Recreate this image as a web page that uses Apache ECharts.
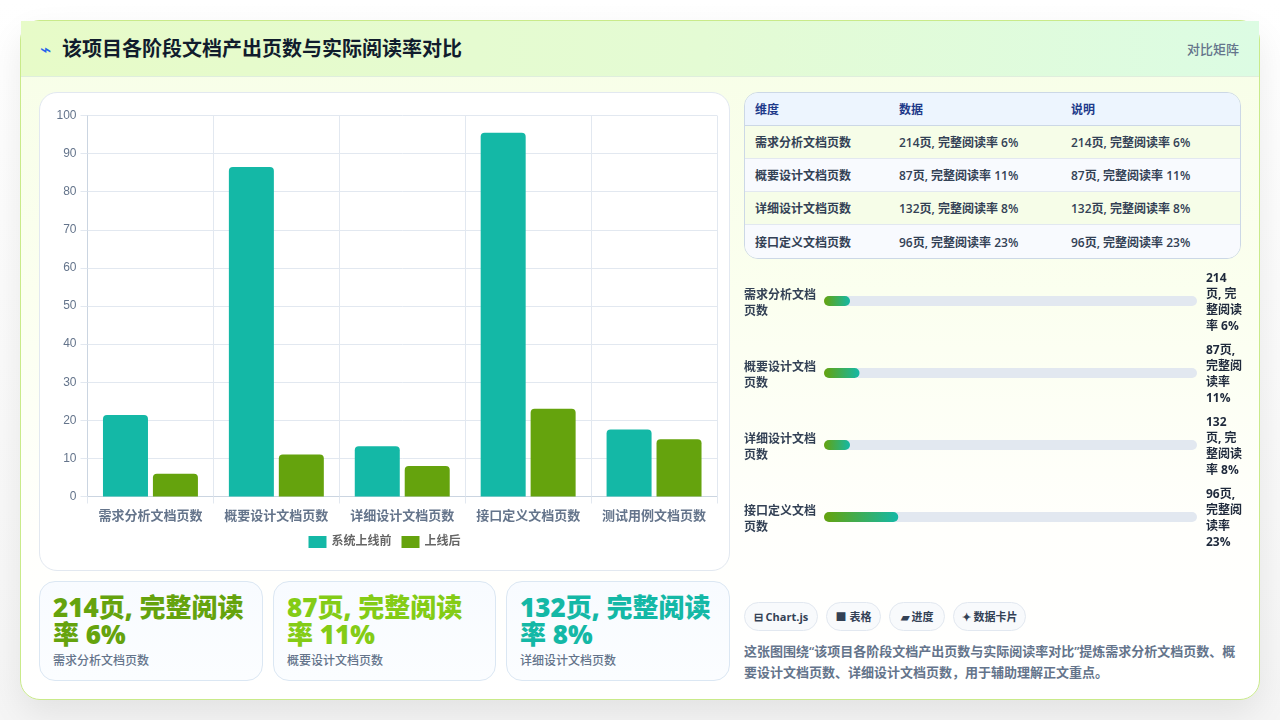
<!DOCTYPE html>
<html lang="zh">
<head>
<meta charset="utf-8">
<title>该项目各阶段文档产出页数与实际阅读率对比</title>
<script src="https://cdn.jsdelivr.net/npm/echarts@6/dist/echarts.min.js"></script>
<style>
*{box-sizing:border-box;margin:0;padding:0}
html,body{width:1280px;height:720px;overflow:hidden;background:linear-gradient(180deg,#fff,#f5f5f5);font-family:"Open Sans","Noto Sans CJK SC",sans-serif;color:#1f2937}
.shell{position:absolute;left:20px;top:20px;width:1240px;height:680px;border:1px solid #c9ea8a;border-radius:20px;background:linear-gradient(180deg,#f7fee7 0%,#fbffef 40%,#fffffc 75%,#ffffff 100%);box-shadow:0 14px 34px rgba(0,0,0,.08)}
.head{position:absolute;left:0;top:0;width:100%;height:56px;background:linear-gradient(90deg,#e7fbc8,#e4fbd4 55%,#dcfce3);border-bottom:1px solid #dfeedd}
.head h1{position:absolute;left:41px;top:14px;font-size:20px;line-height:28px;font-weight:700;color:#111c2d}
.head .icon{position:absolute;left:19px;top:18px;font-size:19px;line-height:20px;color:#2563eb}
.head .tag{position:absolute;right:20px;top:18px;font-size:13px;line-height:20px;font-weight:500;color:#64748b}
.panel{position:absolute;left:18px;top:71px;width:691px;height:479px;background:#fff;border:1px solid #e2e8f0;border-radius:18px}
#main{position:absolute;left:0;top:0;width:689px;height:477px}
table{position:absolute;left:723px;top:71px;width:497px;height:167px;border-collapse:separate;border-spacing:0;border:1px solid #ccd8e6;border-radius:14px;overflow:hidden;font-size:12px;font-weight:600;color:#334155}
th{height:33px;background:#edf5fe;color:#1e3a8a;text-align:left;padding-left:10px;font-weight:700;border-bottom:1px solid #ccd8e6}
td{height:33px;padding-left:10px;border-bottom:1px solid #e2e8f0}
tr:nth-child(even) td{background:#f6fde8}
tr:nth-child(odd) td{background:#f8fafe}
tr:last-child td{border-bottom:0}
#progress{position:absolute;left:723px;top:247px;width:500px;height:286px}
.kpi{position:absolute;top:560px;height:100px;border:1px solid #dbe7f3;border-radius:16px;background:linear-gradient(180deg,#f8fbff,#fbfdff)}
.kpi b{position:absolute;left:13px;top:12px;width:196px;font-size:26px;line-height:27px;font-weight:800}
.kpi span{position:absolute;left:13px;top:71px;font-size:12px;line-height:16px;font-weight:500;color:#64748b}
.chips{position:absolute;left:723px;top:581px;height:28px}
.chip{position:absolute;top:0;height:29px;line-height:27px;border:1px solid #e2e8f0;border-radius:15px;background:#f8fafc;font-size:11px;font-weight:700;color:#334155;text-align:center;white-space:nowrap}
.note{position:absolute;left:723px;top:620px;width:500px;font-size:13px;line-height:21px;font-weight:600;color:#64748b}
</style>
</head>
<body>
<div class="shell">
  <div class="head">
    <div class="icon">⌁</div>
    <h1>该项目各阶段文档产出页数与实际阅读率对比</h1>
    <div class="tag">对比矩阵</div>
  </div>
  <div class="panel"><div id="main"></div></div>
  <table id="tbl"></table>
  <div id="progress"></div>
  <div id="kpis"></div>
  <div class="chips" id="chips"></div>
  <div class="note">这张图围绕“该项目各阶段文档产出页数与实际阅读率对比”提炼需求分析文档页数、概要设计文档页数、详细设计文档页数，用于辅助理解正文重点。</div>
</div>
<script>
// Document pages (in tens) and completed-read rate for each project stage
const categories = ['需求分析文档页数','概要设计文档页数','详细设计文档页数','接口定义文档页数','测试用例文档页数'];
const beforeLaunch = [21.4, 86.5, 13.2, 95.5, 17.6];
const afterLaunch = [6, 11, 8, 23, 15];
const seriesNames = ['系统上线前','上线后'];
const yTicksMax = 100;

const rowNames = ['需求分析文档页数','概要设计文档页数','详细设计文档页数','接口定义文档页数'];
const rowTexts = ['214页, 完整阅读率 6%','87页, 完整阅读率 11%','132页, 完整阅读率 8%','96页, 完整阅读率 23%'];
const rowRates = [6, 11, 8, 23];
const rowWrapped = ['214\n页, 完\n整阅读\n率 6%','87页,\n完整阅\n读率\n11%','132\n页, 完\n整阅读\n率 8%','96页,\n完整阅\n读率\n23%'];
const rowLabels = ['需求分析文档\n页数','概要设计文档\n页数','详细设计文档\n页数','接口定义文档\n页数'];
const tableHeads = ['维度','数据','说明'];
const kpiColors = ['#65a30d','#84cc16','#14b8a6'];
const chipTexts = ['⊟ Chart.js','■ 表格','▰ 进度','✦ 数据卡片'];

const TEAL = '#14b8a6', GREEN = '#65a30d', GRID = '#e2e8f0', AXIS = '#cbd5e1', TICK = '#64748b';
const CJK = '"Open Sans","Noto Sans CJK SC",sans-serif';

// Summary table
document.getElementById('tbl').innerHTML =
  '<colgroup><col style="width:144px"><col style="width:172px"><col></colgroup>' +
  '<tr>' + tableHeads.map(h => '<th>' + h + '</th>').join('') + '</tr>' +
  rowNames.map((n, i) => '<tr><td>' + n + '</td><td>' + rowTexts[i] + '</td><td>' + rowTexts[i] + '</td></tr>').join('');

// Headline cards for the first three stages
const kpiLefts = [18, 252, 485], kpiWidths = [224, 223, 224];
document.getElementById('kpis').innerHTML = kpiColors.map((c, i) =>
  '<div class="kpi" style="left:' + kpiLefts[i] + 'px;width:' + kpiWidths[i] + 'px"><b style="color:' + c + '">' + rowTexts[i] + '</b><span>' + rowNames[i] + '</span></div>').join('');

// Library tags under the progress rows
const chipLefts = [0, 82, 145, 209], chipWidths = [74, 55, 56, 73];
document.getElementById('chips').innerHTML = chipTexts.map((t, i) =>
  '<div class="chip" style="left:' + chipLefts[i] + 'px;width:' + chipWidths[i] + 'px">' + t + '</div>').join('');

// Grouped bars: pages before launch against read rate after launch
echarts.init(document.getElementById('main')).setOption({
  animation: false,
  textStyle: { fontFamily: CJK },
  grid: { left: 47.5, right: 12, top: 22.5, bottom: 73.5, outerBoundsMode: 'none' },
  legend: {
    bottom: 17, left: 'center', itemWidth: 18, itemHeight: 12, itemGap: 10,
    icon: 'rect', textStyle: { color: '#666', fontSize: 12, fontWeight: 600 },
    data: seriesNames
  },
  xAxis: {
    type: 'category', data: categories,
    axisLine: { lineStyle: { color: AXIS } },
    axisTick: { show: true, length: 7, lineStyle: { color: GRID } },
    splitLine: { show: true, lineStyle: { color: GRID } },
    axisLabel: { color: TICK, fontSize: 13, fontWeight: 600, margin: 13, interval: 0 }
  },
  yAxis: {
    type: 'value', min: 0, max: yTicksMax, interval: 10,
    axisLine: { show: true, lineStyle: { color: AXIS } },
    axisTick: { show: true, length: 7, lineStyle: { color: GRID } },
    splitLine: { lineStyle: { color: GRID } },
    axisLabel: { color: TICK, fontSize: 12, margin: 11, fontFamily: '"Liberation Sans",sans-serif' }
  },
  series: [
    { name: seriesNames[0], type: 'bar', data: beforeLaunch, barWidth: 45, barGap: '11%', itemStyle: { color: TEAL, borderRadius: [4, 4, 0, 0] } },
    { name: seriesNames[1], type: 'bar', data: afterLaunch, barWidth: 45, itemStyle: { color: GREEN, borderRadius: [4, 4, 0, 0] } }
  ]
});

// Rich label lines preceded by a thin spacer line, which nudges the block below the bar's centre
const spaced = v => '{s| }\n' + v.split('\n').map(l => '{t|' + l + '}').join('\n');
const richLines = (color, weight, spacer) => ({
  s: { lineHeight: spacer, height: spacer, fontSize: 1 },
  t: { color, fontSize: 12, fontWeight: weight, lineHeight: 16, height: 16, fontFamily: CJK, align: 'left' }
});

// Read-rate progress rows, one grid per stage; 6% sits on the minimum bar length
const rowTops = [33, 105, 177, 249];
const RATE_MAX = 115.5;
echarts.init(document.getElementById('progress')).setOption({
  animation: false,
  textStyle: { fontFamily: CJK },
  grid: rowTops.map(t => ({ left: 80, width: 373, top: t - 5, height: 10, outerBoundsMode: 'none' })),
  xAxis: rowTops.map((t, i) => ({ type: 'value', gridIndex: i, min: 0, max: RATE_MAX, show: false })),
  yAxis: rowTops.flatMap((t, i) => [
    { type: 'category', gridIndex: i, position: 'left', data: [rowLabels[i]], axisLine: { show: false }, axisTick: { show: false },
      axisLabel: { formatter: spaced, rich: richLines('#334155', 600, 6), align: 'left', margin: 80, interval: 0 } },
    { type: 'category', gridIndex: i, position: 'right', data: [rowWrapped[i]], axisLine: { show: false }, axisTick: { show: false },
      axisLabel: { formatter: spaced, rich: richLines('#1e293b', 700, 4), align: 'left', margin: 9, interval: 0 } }
  ]),
  series: rowRates.map((r, i) => ({
    type: 'bar', xAxisIndex: i, yAxisIndex: i * 2, data: [r], barWidth: 10, barMinHeight: 26,
    showBackground: true, backgroundStyle: { color: GRID, borderRadius: 5 },
    itemStyle: { borderRadius: 5, color: new echarts.graphic.LinearGradient(0, 0, 1, 0, [
      { offset: 0, color: GREEN }, { offset: 1, color: TEAL }
    ]) }
  }))
});
</script>
</body>
</html>
